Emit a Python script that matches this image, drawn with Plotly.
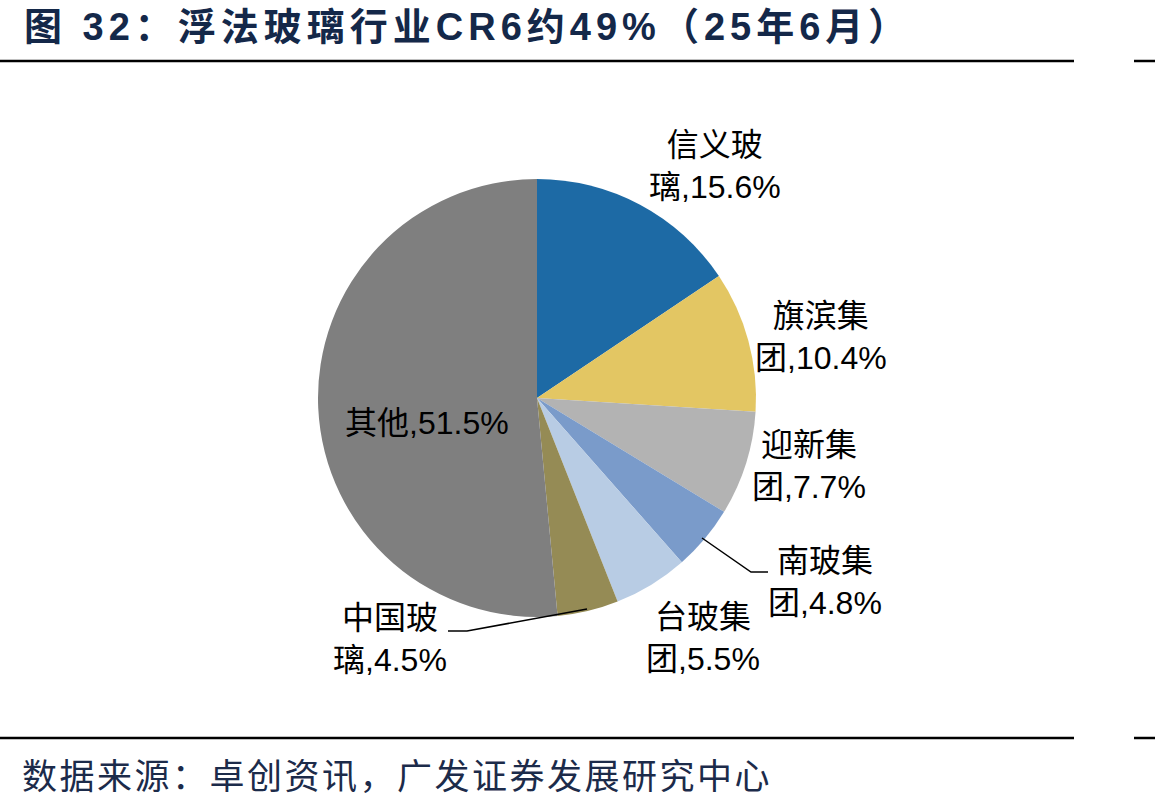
import plotly.graph_objects as go

# ---- data ----
companies = ["信义玻璃", "旗滨集团", "迎新集团", "南玻集团", "台玻集团", "中国玻璃", "其他"]
shares = [15.6, 10.4, 7.7, 4.8, 5.5, 4.5, 51.5]
colors = ["#1D6AA5", "#E3C663", "#B3B3B3", "#7A9BCA", "#B8CCE4", "#958B55", "#7F7F7F"]

title_text = "图 32：浮法玻璃行业CR6约49%（25年6月）"
source_text = "数据来源：卓创资讯，广发证券发展研究中心"

W, H = 1155, 806
cx, cy, r = 537, 398, 219

def px(x):
    return x / W

def py(y):
    return 1 - y / H

fig = go.Figure()
fig.add_trace(go.Pie(
    labels=companies,
    values=shares,
    sort=False,
    direction="clockwise",
    rotation=0,
    marker=dict(colors=colors, line=dict(width=0)),
    textinfo="none",
    hoverinfo="label+percent",
    showlegend=False,
    domain=dict(x=[px(cx - r), px(cx + r)], y=[py(cy + r), py(cy - r)]),
))

# label positions (layout only)
label_pos = {
    "信义玻璃": (715, 166),
    "旗滨集团": (821, 337),
    "迎新集团": (809, 466),
    "南玻集团": (825, 582),
    "台玻集团": (703, 638),
    "中国玻璃": (390, 639),
    "其他": (427, 423),
}

lab_font = dict(family="Liberation Sans, Arial, Noto Sans CJK SC", size=32, color="#000000")
annotations = []
for name, v in zip(companies, shares):
    if len(name) > 3:
        txt = f"{name[:3]}<br>{name[3:]},{v}%"
    else:
        txt = f"{name},{v}%"
    x, y = label_pos[name]
    annotations.append(dict(x=px(x), y=py(y), xref="paper", yref="paper", text=txt,
                            showarrow=False, xanchor="center", yanchor="middle",
                            align="center", font=lab_font))

annotations.append(dict(
    x=px(22), y=py(27), xref="paper", yref="paper",
    text=f'<span style="letter-spacing:5px">{title_text}</span>',
    showarrow=False, xanchor="left", yanchor="middle",
    font=dict(family="Liberation Sans, Arial, Noto Sans CJK SC", size=38, color="#142849", weight="bold"),
))
annotations.append(dict(
    x=px(20), y=py(773), xref="paper", yref="paper",
    text=f'<span style="letter-spacing:2.5px">{source_text}</span>',
    showarrow=False, xanchor="left", yanchor="middle",
    font=dict(family="Noto Sans CJK SC", size=35, color="#1C2B4A"),
))

shapes = []
for yline in (61, 738):
    shapes.append(dict(type="line", xref="paper", yref="paper", x0=0, x1=px(1074),
                       y0=py(yline), y1=py(yline), line=dict(color="#000000", width=2.5)))
    shapes.append(dict(type="line", xref="paper", yref="paper", x0=px(1134), x1=1,
                       y0=py(yline), y1=py(yline), line=dict(color="#000000", width=2.5)))

# leader lines
for pts in ([(702, 538), (751, 572), (768, 572)], [(587, 609), (467, 631), (448, 631)]):
    path = "M " + " L ".join(f"{px(a)},{py(b)}" for a, b in pts)
    shapes.append(dict(type="path", xref="paper", yref="paper", path=path,
                       line=dict(color="#000000", width=1.5)))

fig.update_layout(
    width=W, height=H,
    margin=dict(l=0, r=0, t=0, b=0),
    paper_bgcolor="white", plot_bgcolor="white",
    annotations=annotations, shapes=shapes,
)

fig.write_html("out.html")
